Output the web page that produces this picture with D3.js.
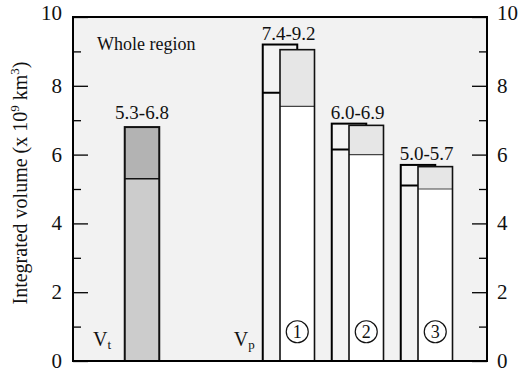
<!DOCTYPE html>
<html>
<head>
<meta charset="utf-8">
<script src="https://cdn.jsdelivr.net/npm/d3@7"></script>
<style>
  body { margin: 0; background: #fff; }
  svg text { font-family: "Times New Roman", "Liberation Serif", "DejaVu Serif", "Noto Serif", Times, serif; }
</style>
</head>
<body>
<svg id="chart" width="523" height="374"></svg>
<script>
// total volume Vt (whole region)
const vtSlot = 1;
const vtLow = 5.3, vtHigh = 6.8;

// partial volumes Vp for regions 1-3
const groups = ["1", "2", "3"];
const groupSlots = [3, 4, 5];
const backTop = [9.2, 6.9, 5.7];
const backMid = [7.8, 6.15, 5.1];
const frontTop = [9.05, 6.85, 5.65];
const frontLow = [7.4, 6.0, 5.0];
const rangeLabels = ["7.4-9.2", "6.0-6.9", "5.0-5.7"];

const majorTicks = [0, 2, 4, 6, 8, 10];
const minorTicks = [1, 3, 5, 7, 9];

const svg = d3.select("#chart"),
  margin = { top: 17, right: 36, bottom: 13, left: 73 },
  width = +svg.attr("width"),
  height = +svg.attr("height");

const x = d3.scaleLinear().domain([0, 6]).range([margin.left, width - margin.right]);
const y = d3.scaleLinear().domain([0, 10]).range([height - margin.bottom, margin.top]);
const bw = x(0.5) - x(0);

function label(sel) {
  return sel.append("text").attr("fill", "#111");
}

// plot background
svg.append("rect")
  .attr("x", x(0)).attr("y", y(10))
  .attr("width", x(6) - x(0)).attr("height", y(0) - y(10))
  .attr("fill", "#f2f2f2");

// Vt stacked bar
svg.append("rect")
  .attr("x", x(vtSlot) - bw / 2).attr("y", y(vtLow))
  .attr("width", bw).attr("height", y(0) - y(vtLow))
  .attr("fill", "#cccccc");
svg.append("rect")
  .attr("x", x(vtSlot) - bw / 2).attr("y", y(vtHigh))
  .attr("width", bw).attr("height", y(vtLow) - y(vtHigh))
  .attr("fill", "#b3b3b3");
svg.append("line")
  .attr("x1", x(vtSlot) - bw / 2).attr("x2", x(vtSlot) + bw / 2)
  .attr("y1", y(vtLow)).attr("y2", y(vtLow))
  .attr("stroke", "#111").attr("stroke-width", 1.5);
svg.append("rect")
  .attr("x", x(vtSlot) - bw / 2).attr("y", y(vtHigh))
  .attr("width", bw).attr("height", y(0) - y(vtHigh))
  .attr("fill", "none").attr("stroke", "#111").attr("stroke-width", 2);
label(svg)
  .attr("x", x(vtSlot)).attr("y", y(vtHigh) - 8)
  .attr("text-anchor", "middle").attr("font-size", 19)
  .text(vtLow.toFixed(1) + "-" + vtHigh.toFixed(1));

// Vp groups
groups.forEach((gname, i) => {
  const cx = x(groupSlots[i]);
  const fx = x(groupSlots[i] + 0.25);

  // back bar
  svg.append("rect")
    .attr("x", cx - bw / 2).attr("y", y(backTop[i]))
    .attr("width", bw).attr("height", y(0) - y(backTop[i]))
    .attr("fill", "#f3f3f3").attr("stroke", "#000").attr("stroke-width", 2);
  svg.append("line")
    .attr("x1", cx - bw / 2).attr("x2", cx + bw / 2)
    .attr("y1", y(backMid[i])).attr("y2", y(backMid[i]))
    .attr("stroke", "#000").attr("stroke-width", 2);

  // front bar
  svg.append("rect")
    .attr("x", fx - bw / 2).attr("y", y(frontLow[i]))
    .attr("width", bw).attr("height", y(0) - y(frontLow[i]))
    .attr("fill", "#ffffff");
  svg.append("rect")
    .attr("x", fx - bw / 2).attr("y", y(frontTop[i]))
    .attr("width", bw).attr("height", y(frontLow[i]) - y(frontTop[i]))
    .attr("fill", "#e6e6e6");
  svg.append("line")
    .attr("x1", fx - bw / 2).attr("x2", fx + bw / 2)
    .attr("y1", y(frontLow[i])).attr("y2", y(frontLow[i]))
    .attr("stroke", "#444").attr("stroke-width", 1.2);
  svg.append("rect")
    .attr("x", fx - bw / 2).attr("y", y(frontTop[i]))
    .attr("width", bw).attr("height", y(0) - y(frontTop[i]))
    .attr("fill", "none").attr("stroke", "#111").attr("stroke-width", 1.6);

  label(svg)
    .attr("x", (cx + fx) / 2).attr("y", y(backTop[i]) - 5)
    .attr("text-anchor", "middle").attr("font-size", 19)
    .text(rangeLabels[i]);

  // circled region number
  svg.append("circle")
    .attr("cx", fx).attr("cy", y(0.85)).attr("r", 11)
    .attr("fill", "none").attr("stroke", "#111").attr("stroke-width", 1.2);
  label(svg)
    .attr("x", fx).attr("y", y(0.85) + 6)
    .attr("text-anchor", "middle").attr("font-size", 18)
    .text(gname);
});

// frame
svg.append("rect")
  .attr("x", x(0)).attr("y", y(10))
  .attr("width", x(6) - x(0)).attr("height", y(0) - y(10))
  .attr("fill", "none").attr("stroke", "#000").attr("stroke-width", 2);

// inward ticks on both sides
const axisLeft = svg.append("g").attr("transform", `translate(${x(0)},0)`);
axisLeft.call(d3.axisRight(y).tickValues(majorTicks).tickSize(15).tickFormat(""));
axisLeft.append("g").call(d3.axisRight(y).tickValues(minorTicks).tickSize(8).tickFormat(""));
const axisRight = svg.append("g").attr("transform", `translate(${x(6)},0)`);
axisRight.call(d3.axisLeft(y).tickValues(majorTicks).tickSize(15).tickFormat(""));
axisRight.append("g").call(d3.axisLeft(y).tickValues(minorTicks).tickSize(8).tickFormat(""));
svg.selectAll(".domain").remove();
svg.selectAll(".tick line").attr("stroke", "#000").attr("stroke-width", 1.3);

// tick labels
majorTicks.forEach(d => {
  label(svg)
    .attr("x", x(0) - 11).attr("y", d === 10 ? y(d) + 3 : y(d) + 7)
    .attr("text-anchor", "end").attr("font-size", 21)
    .text(d);
  label(svg)
    .attr("x", x(6) + 10).attr("y", d === 10 ? y(d) + 3 : y(d) + 7)
    .attr("text-anchor", "start").attr("font-size", 21)
    .text(d);
});

// annotations
label(svg)
  .attr("x", x(0) + 24).attr("y", y(10) + 33)
  .attr("font-size", 18)
  .text("Whole region");

const vt = label(svg).attr("x", x(0) + 20).attr("y", y(0) - 15).attr("font-size", 20);
vt.append("tspan").text("V");
vt.append("tspan").attr("font-size", 13).attr("dy", 3).text("t");

const vp = label(svg).attr("x", x(2.33)).attr("y", y(0) - 15).attr("font-size", 20);
vp.append("tspan").text("V");
vp.append("tspan").attr("font-size", 13).attr("dy", 3).text("p");

// y title
const title = label(svg)
  .attr("transform", `translate(27,${(y(0) + y(10)) / 2 - 6}) rotate(-90)`)
  .attr("text-anchor", "middle").attr("font-size", 20);
title.append("tspan").text("Integrated volume (x 10");
title.append("tspan").attr("font-size", 13).attr("dy", -8).text("9");
title.append("tspan").attr("dy", 8).text(" km");
title.append("tspan").attr("font-size", 13).attr("dy", -8).text("3");
title.append("tspan").attr("dy", 8).text(")");
</script>
</body>
</html>
